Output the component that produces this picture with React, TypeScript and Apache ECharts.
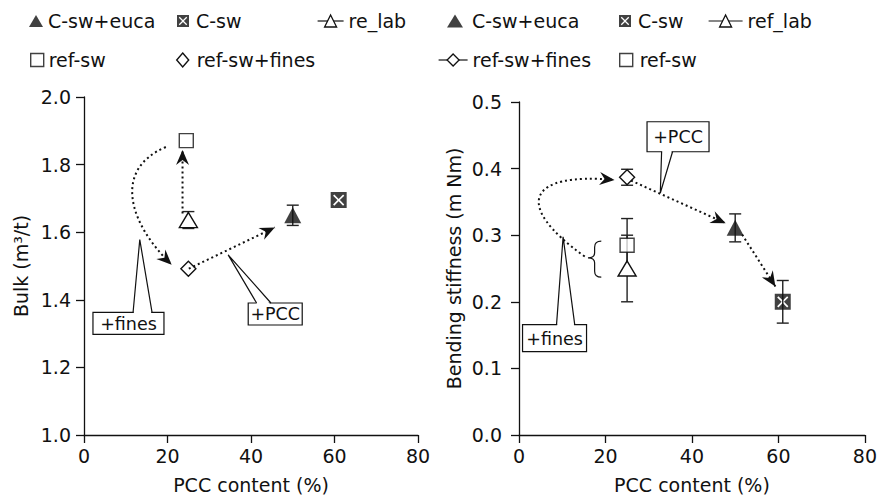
import React, { useEffect, useRef } from 'react';
import * as echarts from 'echarts';

const FONT = '"DejaVu Sans", sans-serif';
const INK = '#111';

// ---- data: [PCC content %, value, ±error] ----
// Left panel: Bulk (m3/t)
const bulkCswEuca = [50, 1.65, 0.03];
const bulkCsw = [61, 1.695, 0];
const bulkReLab = [25, 1.636, 0.025];
const bulkRefSw = [24.5, 1.871, 0];
const bulkRefSwFines = [25, 1.492, 0];
// Right panel: Bending stiffness (m Nm)
const stiffCswEuca = [50, 0.311, 0.021];
const stiffCsw = [61, 0.2, 0.032];
const stiffRefLab = [25, 0.25, 0.05];
const stiffRefSw = [25, 0.285, 0.04];
const stiffRefSwFines = [25, 0.387, 0.012];

// axis ranges
const xRange = [0, 80, 20];
const bulkRange = [1.0, 2.0, 0.2];
const stiffRange = [0.0, 0.5, 0.1];

// ---- annotations (anchors in data units) ----
const leftArrows = [
  [[23.6, 1.655], [23.6, 1.843]],
  [[19.6, 1.852], [6.6, 1.784], [11.0, 1.622], [21.0, 1.504]],
  [[25.1, 1.492], [45.7, 1.614]],
];
const rightArrows = [
  [[15.2, 0.268], [-1.6, 0.346], [2.1, 0.395], [22.1, 0.383]],
  [[25.9, 0.382], [47.8, 0.318]],
  [[51.6, 0.301], [59.3, 0.223]],
];
const leftCallouts = [
  { text: '+fines', center: [10.65, 1.33], tip: [13.36, 1.578], base: [11.75, 16.3], w: 71, h: 22, side: 'top' },
  { text: '+PCC', center: [45.8, 1.358], tip: [34.53, 1.533], base: [41.34, 44.77], w: 54, h: 22, side: 'top' },
];
const rightCallouts = [
  { text: '+fines', center: [8.22, 0.1454], tip: [10.2, 0.2975], base: [8.68, 12.89], w: 64, h: 27, side: 'top' },
  { text: '+PCC', center: [36.78, 0.4478], tip: [32.68, 0.3634], base: [32.98, 35.51], w: 62, h: 30, side: 'bottom' },
];
const rightBrace = { top: [19.03, 0.291], bottom: [19.03, 0.237], tip: [15.95, 0.266] };

const CSW_SYMBOL =
  'path://M0 0L20 0L20 20L0 20Z M3 4.5L8.5 10L3 15.5L4.5 17L10 11.5L15.5 17L17 15.5L11.5 10L17 4.5L15.5 3L10 8.5L4.5 3Z';

const txt = { fontFamily: FONT, fontSize: 19, color: INK };

function makeAnnot(arrows: number[][][], callouts: any[], brace?: any) {
  return (_params: any, api: any) => {
    const c = (p: number[]) => api.coord(p);
    const children: any[] = [];
    arrows.forEach((a) => {
      const P = a.map(c);
      let d: string;
      let from: number[];
      if (P.length === 2) {
        d = `M${P[0][0]} ${P[0][1]} L${P[1][0]} ${P[1][1]}`;
        from = P[0];
      } else {
        d = `M${P[0][0]} ${P[0][1]} C${P[1][0]} ${P[1][1]} ${P[2][0]} ${P[2][1]} ${P[3][0]} ${P[3][1]}`;
        from = P[2];
      }
      const end = P[P.length - 1];
      const ang = Math.atan2(end[1] - from[1], end[0] - from[0]);
      children.push({
        type: 'path',
        shape: { pathData: d },
        style: { fill: 'none', stroke: INK, lineWidth: 2, lineDash: [2, 3] },
      });
      const L = 15, W = 6.5, N = 5;
      const pts = [[0, 0], [-L, -W], [-L + N, 0], [-L, W]].map(([x, y]) => [
        end[0] + x * Math.cos(ang) - y * Math.sin(ang),
        end[1] + x * Math.sin(ang) + y * Math.cos(ang),
      ]);
      children.push({ type: 'polygon', shape: { points: pts }, style: { fill: INK } });
    });
    if (brace) {
      const T = c(brace.top), B = c(brace.bottom), K = c(brace.tip);
      const xr = T[0], xt = K[0], xm = (xr + xt) / 2, ym = K[1];
      const d = `M${xr} ${T[1]} Q${xm} ${T[1]} ${xm} ${T[1] + 6} L${xm} ${ym - 5} Q${xm} ${ym} ${xt} ${ym} Q${xm} ${ym} ${xm} ${ym + 5} L${xm} ${B[1] - 6} Q${xm} ${B[1]} ${xr} ${B[1]}`;
      children.push({ type: 'path', shape: { pathData: d }, style: { fill: 'none', stroke: INK, lineWidth: 1.2 } });
    }
    callouts.forEach((co) => {
      const C = c(co.center);
      const tip = c(co.tip);
      const bx1 = c([co.base[0], co.center[1]])[0];
      const bx2 = c([co.base[1], co.center[1]])[0];
      const x0 = C[0] - co.w / 2, y0 = C[1] - co.h / 2;
      const edgeY = co.side === 'top' ? y0 : y0 + co.h;
      const inward = co.side === 'top' ? 1.5 : -1.5;
      children.push({ type: 'rect', shape: { x: x0, y: y0, width: co.w, height: co.h }, style: { fill: '#fff', stroke: INK, lineWidth: 1.2 } });
      children.push({ type: 'polygon', shape: { points: [[bx1 + 0.6, edgeY + inward], [tip[0], tip[1]], [bx2 - 0.6, edgeY + inward]] }, style: { fill: '#fff' } });
      children.push({ type: 'polyline', shape: { points: [[bx1, edgeY], [tip[0], tip[1]], [bx2, edgeY]] }, style: { fill: 'none', stroke: INK, lineWidth: 1.2 } });
      children.push({
        type: 'text', x: C[0], y: C[1] + 0.5,
        style: { text: co.text, fill: INK, font: `17.5px ${FONT}`, align: 'center', verticalAlign: 'middle' },
      });
    });
    return { type: 'group', children };
  };
}

function errorBars(_params: any, api: any) {
  const x = api.value(0), y = api.value(1), e = api.value(2);
  const t = api.coord([x, y + e]);
  const b = api.coord([x, y - e]);
  const hw = 6;
  const ls = { stroke: '#222', lineWidth: 1.4 };
  return {
    type: 'group',
    children: [
      { type: 'line', shape: { x1: t[0], y1: t[1], x2: b[0], y2: b[1] }, style: ls },
      { type: 'line', shape: { x1: t[0] - hw, y1: t[1], x2: t[0] + hw, y2: t[1] }, style: ls },
      { type: 'line', shape: { x1: b[0] - hw, y1: b[1], x2: b[0] + hw, y2: b[1] }, style: ls },
    ],
  };
}

const openStyle = { color: '#fff', borderColor: INK, borderWidth: 1.4 };
const filledStyle = { color: INK, borderWidth: 0 };

function panelSeries(idx: number, pts: any, lab: string) {
  const ax = { xAxisIndex: idx, yAxisIndex: idx };
  const errs = [pts.euca, pts.csw, pts.lab, pts.ref, pts.fines].filter((p: number[]) => p[2] > 0);
  return [
    { ...ax, type: 'custom', name: 'err' + idx, z: 2, renderItem: errorBars, data: errs, silent: true },
    { ...ax, type: 'scatter', name: 'C-sw+euca', z: 3, symbol: 'triangle', symbolSize: [17, 16], itemStyle: filledStyle, data: [pts.euca.slice(0, 2)] },
    { ...ax, type: 'scatter', name: 'C-sw', z: 3, symbol: CSW_SYMBOL, symbolSize: 16, itemStyle: filledStyle, data: [pts.csw.slice(0, 2)] },
    { ...ax, type: 'line', name: lab, z: 3, symbol: 'triangle', symbolSize: [18, 15], itemStyle: openStyle, lineStyle: { color: INK, width: 1.2 }, data: [pts.lab.slice(0, 2)] },
    { ...ax, type: 'scatter', name: 'ref-sw', z: 3, symbol: 'rect', symbolSize: 14, itemStyle: openStyle, data: [pts.ref.slice(0, 2)] },
    { ...ax, type: 'line', name: 'ref-sw+fines', z: 3, symbol: 'diamond', symbolSize: [15, 15], itemStyle: openStyle, lineStyle: { color: INK, width: 1.2 }, data: [pts.fines.slice(0, 2)] },
  ];
}

function legendItem(name: string, left: number, top: number, w: number, h: number, icon: string | null, style: any, extra = 0) {
  return {
    left, top, padding: 0, itemWidth: w, itemHeight: h, selectedMode: false,
    data: [icon ? { name, icon, itemStyle: style } : { name }],
    itemStyle: { borderWidth: 1.3 },
    lineStyle: { width: 1.2, color: INK },
    textStyle: { ...txt, padding: [0, 0, 0, extra] },
  };
}

function axisCommon() {
  return {
    type: 'value',
    nameLocation: 'middle',
    nameTextStyle: { ...txt },
    axisLine: { show: true, onZero: false, lineStyle: { color: INK, width: 1.3 } },
    axisTick: { show: true, inside: false, length: 8, lineStyle: { color: INK, width: 1.3 } },
    splitLine: { show: false },
  };
}

export default function App() {
  const ref = useRef<HTMLDivElement>(null);
  useEffect(() => {
    if (!ref.current) return;
    const chart = echarts.init(ref.current, null, { renderer: 'svg' });
    const R1 = 11.5, R2 = 50.5;
    const option: any = {
      animation: false,
      backgroundColor: '#fff',
      textStyle: { fontFamily: FONT },
      grid: [
        { left: 84, right: 462, top: 97, bottom: 63 },
        { left: 519, right: 13, top: 102, bottom: 63 },
      ],
      legend: [
        legendItem('C-sw+euca', 29, R1, 14, 12, 'triangle', filledStyle),
        legendItem('C-sw', 177, R1, 12, 12, CSW_SYMBOL, filledStyle, 2),
        legendItem('re_lab', 317, R1, 26, 15, null, null),
        legendItem('ref-sw', 30, R2, 13, 13, 'rect', openStyle),
        legendItem('ref-sw+fines', 176, R2, 12, 14, 'diamond', openStyle, 3),
        legendItem('C-sw+euca', 447, R1, 16, 13, 'triangle', filledStyle, 4),
        legendItem('C-sw', 619, R1, 12, 12, CSW_SYMBOL, filledStyle, 2),
        legendItem('ref_lab', 708, R1, 34, 15, null, null),
        legendItem('ref-sw+fines', 438, R2, 29, 15, null, null),
        legendItem('ref-sw', 619, R2, 13, 13, 'rect', openStyle, 2),
      ],
      xAxis: [0, 1].map((i) => ({
        ...axisCommon(),
        gridIndex: i,
        min: xRange[0], max: xRange[1], interval: xRange[2],
        name: 'PCC content (%)',
        nameGap: 40,
        axisLabel: { ...txt, margin: 11 },
      })),
      yAxis: [
        {
          ...axisCommon(), gridIndex: 0,
          min: bulkRange[0], max: bulkRange[1], interval: bulkRange[2],
          name: 'Bulk (m³/t)', nameGap: 54,
          axisLabel: { ...txt, margin: 13, formatter: (v: number) => v.toFixed(1) },
        },
        {
          ...axisCommon(), gridIndex: 1,
          min: stiffRange[0], max: stiffRange[1], interval: stiffRange[2],
          name: 'Bending stiffness (m Nm)', nameGap: 56,
          axisLabel: { ...txt, margin: 17, formatter: (v: number) => v.toFixed(1) },
        },
      ],
      series: [
        ...panelSeries(1, { euca: stiffCswEuca, csw: stiffCsw, lab: stiffRefLab, ref: stiffRefSw, fines: stiffRefSwFines }, 'ref_lab'),
        ...panelSeries(0, { euca: bulkCswEuca, csw: bulkCsw, lab: bulkReLab, ref: bulkRefSw, fines: bulkRefSwFines }, 're_lab'),
        { type: 'custom', xAxisIndex: 0, yAxisIndex: 0, z: 5, silent: true, clip: false, data: [[0, 0]], renderItem: makeAnnot(leftArrows, leftCallouts) },
        { type: 'custom', xAxisIndex: 1, yAxisIndex: 1, z: 5, silent: true, clip: false, data: [[0, 0]], renderItem: makeAnnot(rightArrows, rightCallouts, rightBrace) },
      ],
    };
    chart.setOption(option);
    return () => chart.dispose();
  }, []);
  return <div ref={ref} style={{ position: 'fixed', left: 0, top: 0, width: 880, height: 499, background: '#fff' }} />;
}
